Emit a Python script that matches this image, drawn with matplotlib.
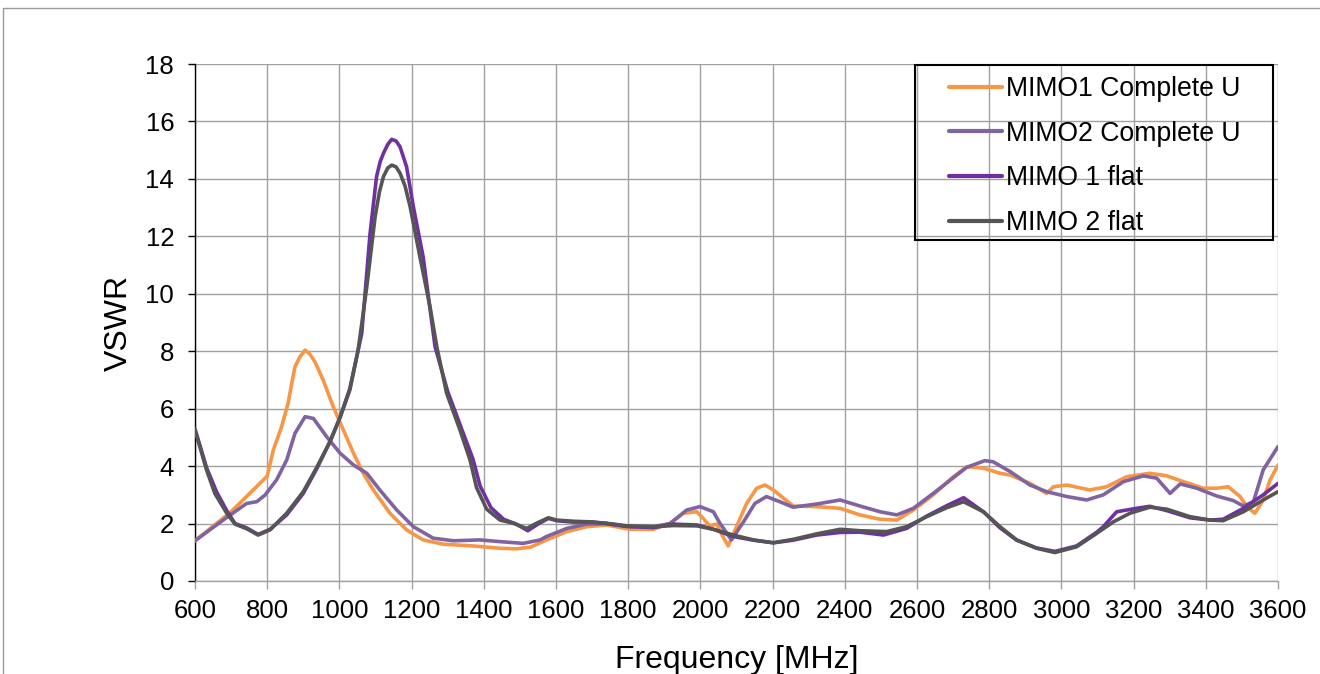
import matplotlib
matplotlib.use('Agg')
from matplotlib import pyplot as plt
from matplotlib.patches import Rectangle

plt.rcParams['font.family'] = ['Liberation Sans', 'DejaVu Sans']

# measured VSWR curves (frequency in MHz)
f_mimo1_cu = [600, 700, 800, 817, 840, 858, 868, 877, 891, 905, 918, 932, 955, 983, 1011, 1039,
              1066, 1094, 1140, 1186, 1232, 1288, 1371, 1445, 1490, 1530, 1574, 1630, 1685,
              1740, 1805, 1870, 1916, 1953, 1990, 2010, 2025, 2045, 2060, 2077, 2100, 2128,
              2156, 2179, 2202, 2257, 2322, 2387, 2442, 2498, 2544, 2590, 2645, 2701, 2738,
              2784, 2830, 2858, 2913, 2959, 2978, 3015, 3079, 3125, 3181, 3245, 3292, 3338,
              3393, 3430, 3462, 3495, 3513, 3536, 3559, 3578, 3600]
v_mimo1_cu = [1.40, 2.41, 3.65, 4.56, 5.37, 6.19, 6.88, 7.46, 7.81, 8.04, 7.90, 7.64, 7.00, 6.07, 5.26, 4.45,
              3.75, 3.17, 2.36, 1.78, 1.43, 1.28, 1.22, 1.14, 1.12, 1.18, 1.43, 1.72, 1.89,
              1.95, 1.80, 1.80, 2.01, 2.36, 2.41, 2.15, 1.92, 1.98, 1.60, 1.22, 1.89, 2.70,
              3.23, 3.34, 3.17, 2.61, 2.59, 2.53, 2.30, 2.15, 2.12, 2.47, 3.00, 3.63, 3.98,
              3.93, 3.75, 3.69, 3.40, 3.05, 3.28, 3.34, 3.17, 3.28, 3.63, 3.75, 3.66, 3.46,
              3.23, 3.23, 3.28, 2.94, 2.59, 2.36, 2.82, 3.52, 4.04]

f_mimo2_cu = [600, 678, 743, 771, 794, 826, 854, 877, 905, 928, 965, 1002, 1039, 1076, 1112,
              1159, 1205, 1260, 1316, 1389, 1445, 1509, 1556, 1574, 1630, 1685, 1740, 1805,
              1870, 1916, 1962, 1999, 2036, 2054, 2086, 2119, 2151, 2183, 2220, 2257, 2322,
              2387, 2442, 2498, 2544, 2590, 2645, 2701, 2738, 2788, 2811, 2858, 2913, 2959,
              3015, 3070, 3116, 3172, 3227, 3264, 3301, 3329, 3375, 3430, 3476, 3504, 3532,
              3559, 3600]
v_mimo2_cu = [1.40, 2.12, 2.70, 2.76, 2.99, 3.52, 4.21, 5.14, 5.72, 5.66, 5.02, 4.45, 4.04, 3.75, 3.17,
              2.47, 1.89, 1.49, 1.40, 1.43, 1.37, 1.31, 1.43, 1.55, 1.83, 1.98, 2.00, 1.89,
              1.89, 2.00, 2.47, 2.59, 2.41, 2.01, 1.43, 2.05, 2.70, 2.94, 2.76, 2.57, 2.68,
              2.82, 2.61, 2.41, 2.30, 2.53, 3.05, 3.60, 3.96, 4.19, 4.15, 3.81, 3.34, 3.11,
              2.94, 2.82, 3.00, 3.46, 3.66, 3.58, 3.05, 3.38, 3.23, 2.96, 2.80, 2.61, 2.76,
              3.87, 4.68]

f_mimo1_flat = [600, 632, 660, 688, 711, 743, 775, 808, 854, 900, 937, 974, 1002, 1029, 1062,
                1085, 1103, 1113, 1122, 1134, 1145, 1157, 1168, 1186, 1205, 1232, 1265, 1300,
                1340, 1370, 1390, 1420, 1455, 1490, 1522, 1550, 1579, 1602, 1648, 1694, 1740,
                1796, 1870, 1925, 1990, 2036, 2091, 2147, 2202, 2257, 2322, 2387, 2442, 2507,
                2571, 2627, 2682, 2729, 2784, 2830, 2876, 2931, 2982, 3042, 3098, 3116, 3153,
                3208, 3245, 3292, 3356, 3412, 3448, 3504, 3559, 3600]
v_mimo1_flat = [5.30, 3.95, 3.10, 2.45, 2.00, 1.85, 1.62, 1.80, 2.30, 3.05, 3.90, 4.85, 5.70, 6.70, 8.62,
                12.10, 14.08, 14.60, 14.89, 15.20, 15.38, 15.32, 15.12, 14.43, 13.03, 11.29, 8.16, 6.60,
                5.25, 4.25, 3.30, 2.55, 2.15, 1.98, 1.75, 1.98, 2.18, 2.10, 2.05, 2.06, 2.00,
                1.90, 1.86, 1.98, 1.95, 1.80, 1.55, 1.42, 1.33, 1.42, 1.60, 1.69, 1.70, 1.60,
                1.83, 2.26, 2.62, 2.90, 2.41, 1.85, 1.42, 1.15, 1.03, 1.22, 1.70, 1.89, 2.41,
                2.53, 2.60, 2.45, 2.20, 2.12, 2.15, 2.53, 3.00, 3.40]

f_mimo2_flat = [600, 632, 655, 688, 711, 743, 775, 808, 854, 900, 937, 974, 1002, 1029, 1052,
                1076, 1099, 1111, 1122, 1134, 1145, 1157, 1168, 1182, 1196, 1223, 1251, 1270,
                1297, 1334, 1362, 1380, 1408, 1445, 1482, 1519, 1546, 1579, 1602, 1648, 1694,
                1740, 1796, 1870, 1925, 1990, 2036, 2091, 2147, 2202, 2257, 2322, 2387, 2442,
                2516, 2571, 2627, 2682, 2729, 2784, 2830, 2876, 2931, 2982, 3042, 3098, 3144,
                3190, 3245, 3292, 3356, 3412, 3448, 3504, 3559, 3600]
v_mimo2_flat = [5.26, 3.87, 3.05, 2.36, 1.98, 1.82, 1.60, 1.78, 2.36, 3.11, 3.95, 4.85, 5.70, 6.65, 8.04,
                10.25, 12.68, 13.55, 14.08, 14.38, 14.48, 14.42, 14.20, 13.75, 13.03, 11.29, 9.55, 8.15,
                6.54, 5.26, 4.21, 3.25, 2.50, 2.12, 2.01, 1.83, 2.01, 2.20, 2.12, 2.08, 2.06,
                2.01, 1.92, 1.89, 1.93, 1.92, 1.80, 1.60, 1.43, 1.33, 1.45, 1.64, 1.80, 1.75,
                1.72, 1.89, 2.24, 2.55, 2.76, 2.41, 1.89, 1.43, 1.14, 0.99, 1.19, 1.66, 2.06,
                2.36, 2.57, 2.50, 2.24, 2.12, 2.10, 2.41, 2.82, 3.11]

labels = ['MIMO1 Complete U', 'MIMO2 Complete U', 'MIMO 1 flat', 'MIMO 2 flat']
colors = ['#F79646', '#8064A2', '#7030A0', '#555555']

x_ticks = list(range(600, 3601, 200))
y_ticks = list(range(0, 19, 2))


fig = plt.figure(figsize=(13.2, 6.74), dpi=100)
ax = fig.add_axes([0.1477, 0.138, 0.8205, 0.767])

# outer chart border (cut at right and bottom)
fig.patches.append(Rectangle((3 / 1320, -0.1), 1.2, 1.1 - 8 / 674, transform=fig.transFigure,
                             fill=False, edgecolor='#9a9a9a', linewidth=1.0))

series = [(f_mimo1_cu, v_mimo1_cu), (f_mimo2_cu, v_mimo2_cu),
          (f_mimo1_flat, v_mimo1_flat), (f_mimo2_flat, v_mimo2_flat)]
for (f, v), lab, c in zip(series, labels, colors):
    ax.plot(f, v, color=c, linewidth=2.6, label=lab, solid_joinstyle='round',
            solid_capstyle='round', zorder=3)

ax.set_xlim(600, 3600)
ax.set_ylim(0, 18)
ax.set_xticks(x_ticks)
ax.set_yticks(y_ticks)
ax.grid(True, color='#a0a0a0', linewidth=1.0)
ax.set_axisbelow(True)

for side in ['top', 'right']:
    ax.spines[side].set_visible(False)
ax.spines['left'].set_color('black')
ax.spines['left'].set_linewidth(1.0)
ax.spines['bottom'].set_color('#a0a0a0')
ax.spines['bottom'].set_linewidth(1.0)

ax.tick_params(axis='y', direction='out', length=5, width=1, color='black', pad=10, labelsize=18.5)
ax.tick_params(axis='x', direction='out', length=6, width=1, color='#a0a0a0', pad=7, labelsize=18.5)

ax.set_xlabel('Frequency [MHz]', fontsize=23, labelpad=16)
ax.set_ylabel('VSWR', fontsize=23, labelpad=8)

leg = ax.legend(loc='upper right', bbox_to_anchor=(0.9649, 0.977), borderaxespad=0,
                borderpad=0, frameon=False, fontsize=19.2, handlelength=2.0,
                handletextpad=0.12, labelspacing=0.7)
for line in leg.get_lines():
    line.set_linewidth(3.0)

# legend box
ax.add_patch(Rectangle((0.6648, 0.6596), 0.3306, 0.3384, transform=ax.transAxes,
                       fill=False, edgecolor='black', linewidth=1.5, zorder=5, clip_on=False))

fig.savefig('out.png', dpi=100)
